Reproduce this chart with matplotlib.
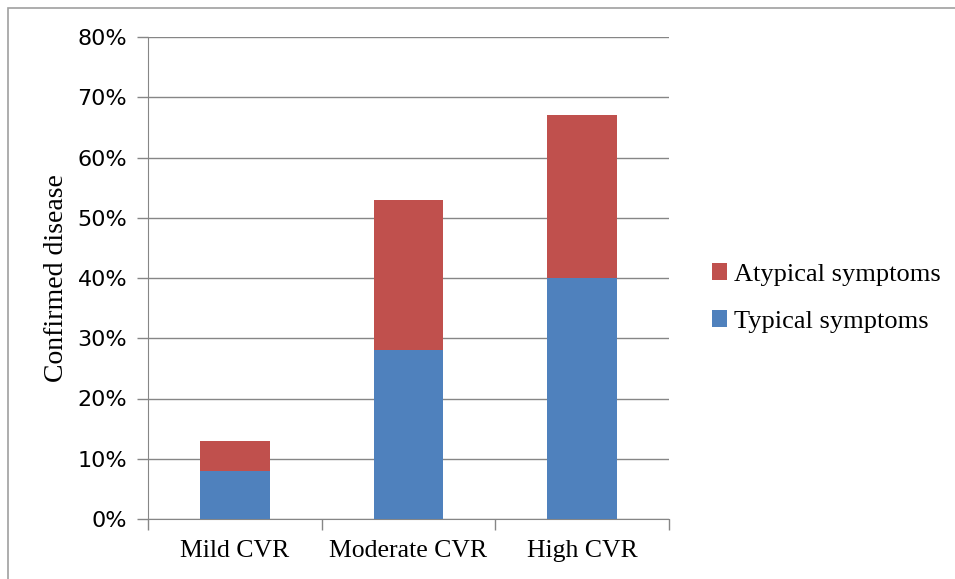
import matplotlib.pyplot as plt
from matplotlib.patches import Rectangle

categories = ['Mild CVR', 'Moderate CVR', 'High CVR']
typical = [8, 28, 40]
atypical = [5, 25, 27]
y_ticks = [0, 10, 20, 30, 40, 50, 60, 70, 80]

blue = '#4f81bd'
red = '#c0504d'
grid_col = '#868686'
serif = ['Liberation Serif', 'DejaVu Serif']

fig = plt.figure(figsize=(9.55, 5.79), dpi=100)
ax = fig.add_axes([148 / 955, 1 - 519 / 579, 521 / 955, 482 / 579])

# outer chart border (left and top visible)
fig.patches.append(Rectangle((8 / 955, -0.1), 1.2, 1 - 8 / 579 + 0.1, transform=fig.transFigure,
                             fill=False, edgecolor='#a0a0a0', linewidth=1.2))

x = range(len(categories))
ax.bar(x, typical, width=0.4, color=blue, label='Typical symptoms', zorder=3)
ax.bar(x, atypical, width=0.4, bottom=typical, color=red, label='Atypical symptoms', zorder=3)

ax.set_xlim(-0.5, 2.5)
ax.set_ylim(0, 80)
ax.set_yticks(y_ticks)
ax.set_yticklabels([f'{v}%' for v in y_ticks], fontsize=16)
ax.yaxis.grid(True, color=grid_col, linewidth=1, zorder=0)
ax.tick_params(axis='y', length=8, width=1, color=grid_col, pad=7)

ax.set_xticks([-0.5, 0.5, 1.5, 2.5])
ax.set_xticklabels([])
ax.tick_params(axis='x', length=8, width=1, color=grid_col, direction='out')
for i, c in enumerate(categories):
    ax.text(i, -3.5, c, ha='center', va='top', fontsize=18.5, family=serif)

for s in ['top', 'right']:
    ax.spines[s].set_visible(False)
for s in ['left', 'bottom']:
    ax.spines[s].set_color(grid_col)

ax.set_ylabel('Confirmed disease', fontsize=20, family=serif, labelpad=6)

handles, labels = ax.get_legend_handles_labels()
leg = fig.legend(handles[::-1], labels[::-1], loc='center left', bbox_to_anchor=(701 / 955, 1 - 298 / 579),
                 frameon=False, prop={'family': serif, 'size': 19}, handlelength=0.6, handleheight=0.6,
                 handletextpad=0.25, labelspacing=0.9, borderaxespad=0)

fig.savefig('out.png', dpi=100)
